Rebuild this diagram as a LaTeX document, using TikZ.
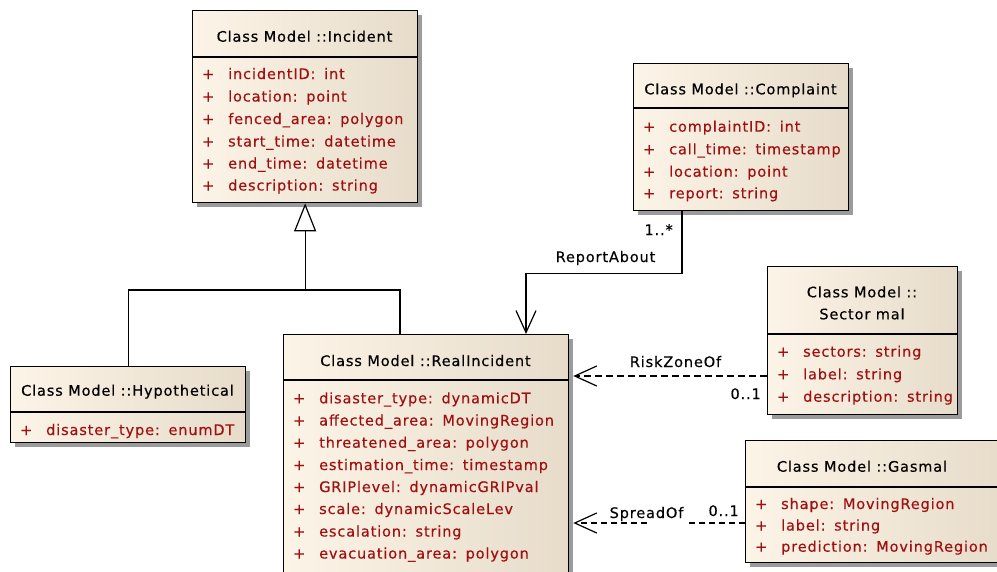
\documentclass[tikz,border=0pt]{standalone}
\usepackage{fontspec}
\setmainfont{DejaVu Sans}[LetterSpace=6,FakeBold=0.35]
\usetikzlibrary{arrows.meta}

\definecolor{attrred}{RGB}{160,16,16}
\definecolor{boxlight}{RGB}{252,244,231}
\definecolor{boxdark}{RGB}{231,220,202}
\definecolor{shadowgray}{RGB}{155,155,155}

\tikzset{
  umlbox/.style={draw=black, line width=1.3pt, left color=boxlight, right color=boxdark, inner sep=0pt},
  hdr/.style={font=\fontsize{14.5}{17}\selectfont, text=black, inner sep=0pt, anchor=base},
  attr/.style={font=\fontsize{14.5}{17}\selectfont, text=attrred, inner sep=0pt, anchor=base west},
  conn/.style={line width=1.3pt, draw=black},
  dep/.style={conn, dash pattern=on 7pt off 4pt},
  lbl/.style={font=\fontsize{14.5}{17}\selectfont, text=black, inner sep=0pt},
  openvee/.style={-{Straight Barb[length=22pt,width=20pt,line width=1.2pt]}},
}

% class box: name, left x, top y, width, height, header height
\newcommand\umlclass[6]{%
  \fill[shadowgray] (#2+5,#3+5) rectangle ++(#4,#5);
  \node[umlbox, anchor=north west, minimum width=#4pt, minimum height=#5pt] (#1) at (#2,#3) {};
  \draw[line width=1.3pt] (#2,#3+#6) -- (#2+#4,#3+#6);
}
% attribute row: left x of box, baseline y, text
\newcommand\umlattr[3]{%
  \node[attr] at (#1+10,#2) {+};
  \node[attr] at (#1+36,#2) {#3};
}
\newcommand\colsep{\hspace{0.6em}}

\begin{document}
\begin{tikzpicture}[x=1pt,y=-1pt]
\useasboundingbox (0,0) rectangle (997,571);

% ---------------- classes ----------------
\umlclass{inc}{192}{10}{225}{192}{47}
\node[hdr] at (304.5,41.7) {Class Model ::Incident};
\umlattr{192}{79}{incidentID:\colsep int}
\umlattr{192}{101.5}{location:\colsep point}
\umlattr{192}{124}{fenced\_area:\colsep polygon}
\umlattr{192}{146.5}{start\_time:\colsep datetime}
\umlattr{192}{168.5}{end\_time:\colsep datetime}
\umlattr{192}{190.5}{description:\colsep string}

\umlclass{comp}{633}{63}{215}{147}{45}
\node[hdr] at (740.5,94.3) {Class Model ::Complaint};
\umlattr{633}{131.7}{complaintID:\colsep int}
\umlattr{633}{154.3}{call\_time:\colsep timestamp}
\umlattr{633}{176.7}{location:\colsep point}
\umlattr{633}{198.3}{report:\colsep string}

\umlclass{sect}{767}{266}{190}{148}{68}
\node[hdr] at (862,297.3) {Class Model ::};
\node[hdr] at (862,319.3) {Sector mal};
\umlattr{767}{356.7}{sectors:\colsep string}
\umlattr{767}{379.3}{label:\colsep string}
\umlattr{767}{401.7}{description:\colsep string}

\umlclass{gas}{745}{440}{260}{122}{47}
\node[hdr] at (862,471.7) {Class Model ::Gasmal};
\umlattr{745}{509}{shape:\colsep MovingRegion}
\umlattr{745}{530.5}{label:\colsep string}
\umlattr{745}{551.7}{prediction:\colsep MovingRegion}

\umlclass{hyp}{10}{366}{235}{76}{46}
\node[hdr] at (127.5,395.7) {Class Model ::Hypothetical};
\umlattr{10}{435}{disaster\_type:\colsep enumDT}

\umlclass{real}{283}{334}{285}{250}{46}
\node[hdr] at (425.5,366) {Class Model ::RealIncident};
\umlattr{283}{403.3}{disaster\_type:\colsep dynamicDT}
\umlattr{283}{425.5}{affected\_area:\colsep MovingRegion}
\umlattr{283}{447.7}{threatened\_area:\colsep polygon}
\umlattr{283}{470}{estimation\_time:\colsep timestamp}
\umlattr{283}{492}{GRIPlevel:\colsep dynamicGRIPval}
\umlattr{283}{514}{scale:\colsep dynamicScaleLev}
\umlattr{283}{536.5}{escalation:\colsep string}
\umlattr{283}{558.5}{evacuation\_area:\colsep polygon}

% ---------------- generalization ----------------
\coordinate (genj) at (inc.south |- 0,290);
\coordinate (realgen) at ([xshift=117pt]real.north west);
\draw[conn] (hyp.north) |- (genj) -| (realgen);
\draw[conn, -{Triangle[open, length=28pt, width=22pt, line width=1.2pt, fill=white]}] (genj) -- (inc.south);

% ---------------- ReportAbout ----------------
\coordinate (rabstart) at ([xshift=49pt]comp.south west);
\coordinate (rabend) at ([xshift=243pt]real.north west);
\draw[conn, openvee] (rabstart) -- ++(0,62) -| (rabend);
\node[lbl, anchor=base east] (m1) at (673,235) {1..*};
\node[lbl, anchor=base] (rab) at (605.5,262) {ReportAbout};

% ---------------- RiskZoneOf ----------------
\coordinate (rzstart) at ([yshift=-110pt]sect.north west);
\coordinate (rzend) at ([xshift=4pt]real.east |- rzstart);
\draw[dep, openvee] (rzstart) -- (rzend);
\node[lbl, anchor=base] (rz) at (675.5,367) {RiskZoneOf};
\node[lbl, anchor=base east] (m2) at (761,399) {0..1};

% ---------------- SpreadOf (line broken beside its label) ----------------
\coordinate (spstart) at ([yshift=-83pt]gas.north west);
\coordinate (spend) at ([xshift=4pt]real.east |- spstart);
\draw[conn, dash pattern=on 6pt off 4pt, openvee]
  (spstart) -- ++(-58,0) ++(-40,0) -- (spend);
\node[lbl, anchor=base] (sp) at (646.5,518) {SpreadOf};
\node[lbl, anchor=base east] (m3) at (739,516) {0..1};
\end{tikzpicture}
\end{document}
